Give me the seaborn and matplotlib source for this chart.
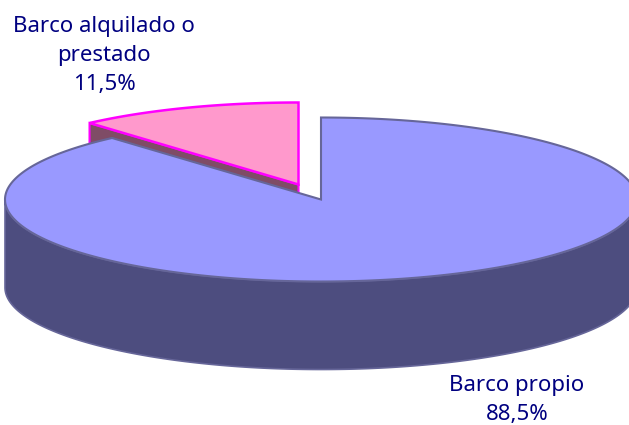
import numpy as np
import matplotlib
matplotlib.use("Agg")
import matplotlib.pyplot as plt
import seaborn as sns

labels = ["Barco alquilado o\nprestado", "Barco propio"]
values = [11.5, 88.5]
top_colors = ["#ff99cc", "#9999ff"]
side_colors = ["#7f4c66", "#4d4d7f"]
edge_colors = ["#ff00ff", "#666699"]

CX, CY, RX, RY = 321, 199.5, 316, 82
DEPTH = 88
EXPLODE = (-22.5, -15)


def rim(t0, t1, dx=0, dy=0, drop=0):
    t = np.radians(np.linspace(t0, t1, 300))
    return CX + dx + RX * np.cos(t), CY + dy + drop - RY * np.sin(t)


def main():
    sns.set_theme(style="white")
    plt.rcParams["font.family"] = ["Noto Sans", "DejaVu Sans"]

    fig = plt.figure(figsize=(6.29, 4.25), dpi=100)
    ax = fig.add_axes([0, 0, 1, 1])
    ax.set_xlim(0, 629)
    ax.set_ylim(425, 0)
    ax.axis("off")

    # slices start at 12 o'clock and go counter clockwise
    split = 90 + 360 * values[0] / sum(values)

    # wall of the pulled out slice, the big slice hides most of it
    dx, dy = EXPLODE
    x0, y0 = CX + dx, CY + dy
    xe, ye = rim(split, split, dx, dy)
    ax.fill([x0, xe[0], xe[0], x0], [y0, ye[0], ye[0] + DEPTH, y0 + DEPTH],
            fc=side_colors[0], ec=edge_colors[0], lw=1.5, zorder=1)

    # top of the pulled out slice
    xs, ys = rim(90, split, dx, dy)
    ax.fill(np.r_[x0, xs], np.r_[y0, ys], fc=top_colors[0], ec=edge_colors[0],
            lw=1.8, joinstyle="miter", zorder=2)

    # front wall of the big slice
    xt, yt = rim(180, 360)
    xb, yb = rim(360, 180, drop=DEPTH)
    ax.fill(np.r_[xt, xb], np.r_[yt, yb], fc=side_colors[1], ec=edge_colors[1],
            lw=1.2, zorder=3)

    # top of the big slice
    xs, ys = rim(split, 450)
    ax.fill(np.r_[CX, xs], np.r_[CY, ys], fc=top_colors[1], ec=edge_colors[1],
            lw=1.5, joinstyle="miter", zorder=4)

    text_pos = [(104, 55), (517, 400)]
    for name, val, pos in zip(labels, values, text_pos):
        txt = name + "\n" + f"{val:.1f}".replace(".", ",") + "%"
        ax.text(pos[0], pos[1], txt, color="#000080", fontsize=16, ha="center",
                va="center", linespacing=1.5, zorder=5)

    fig.savefig("out.png", dpi=100)


if __name__ == "__main__":
    main()
